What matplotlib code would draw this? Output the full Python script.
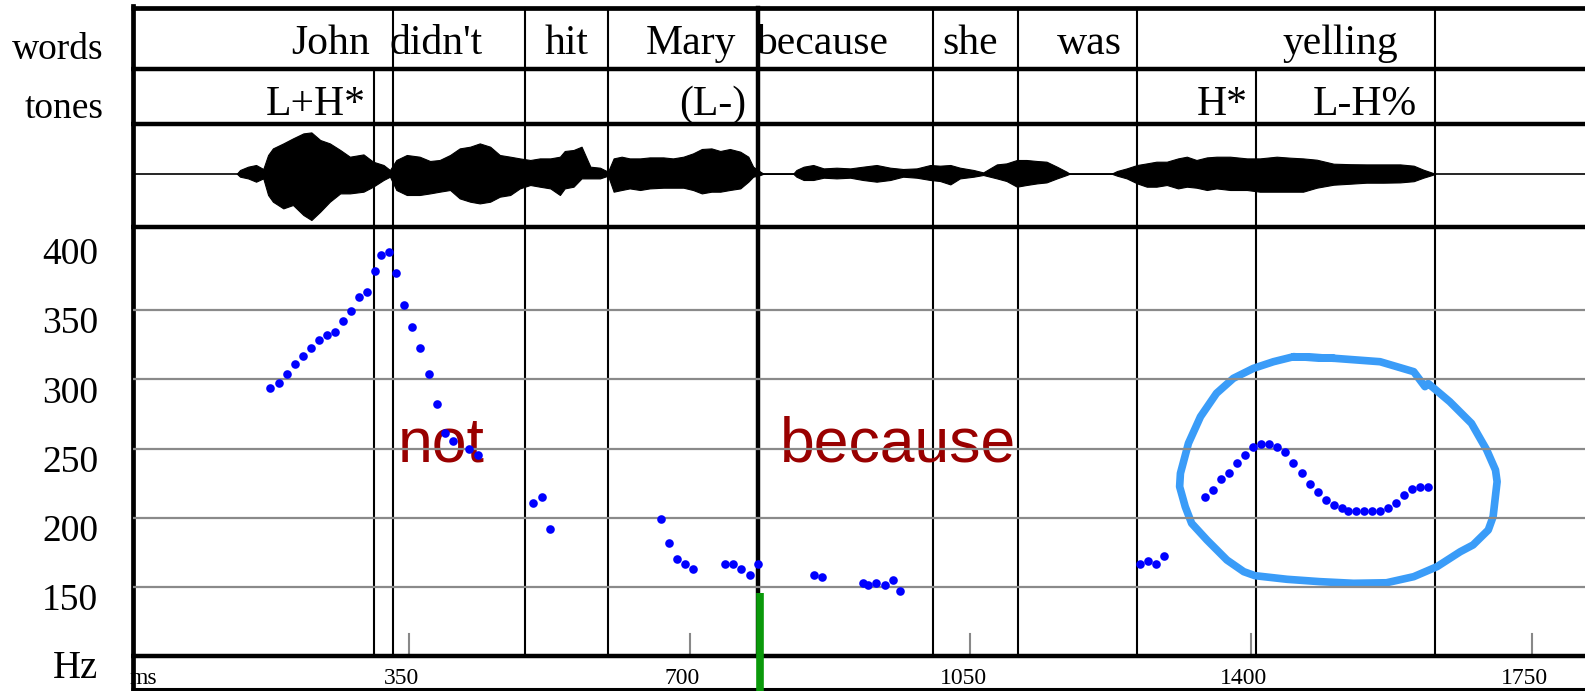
import matplotlib
matplotlib.use("Agg")
import matplotlib.pyplot as plt

# ---------------- data ----------------
word_labels = ["John", "didn't", "hit", "Mary", "because", "she", "was", "yelling"]
word_label_ms = [252, 383, 546, 702, 865, 1050, 1199, 1511]
word_bounds_ms = [330, 495, 598, 785, 1003, 1110, 1258, 1630]

tone_labels = ["L+H*", "(L-)", "H*", "L-H%"]
tone_label_ms = [233, 728, 1364, 1542]
tone_only_bounds_ms = [306, 1406]

pitch_ms = [176, 187, 197, 207, 217, 227, 237, 247, 257, 267, 277, 287, 297, 307,
            315, 325, 334, 344, 354, 364, 375, 385, 395, 405, 425, 436,
            505, 516, 526,
            664, 674, 684, 694, 704, 744, 754, 764, 775, 785,
            855, 865, 916, 922, 932, 943, 953, 962,
            1262, 1272, 1282, 1292,
            1343, 1353, 1363, 1373, 1383, 1393, 1403, 1413, 1423, 1433, 1443, 1453,
            1464, 1474, 1484, 1494, 1504, 1514, 1521, 1531, 1541, 1551, 1561, 1571,
            1581, 1591, 1601, 1611, 1621]
pitch_hz = [293.9, 297.5, 303.5, 311.2, 317.0, 322.8, 328.5, 332.2, 334.3, 342.0,
            349.5, 359.2, 363.0, 378.2, 390.0, 392.0, 376.7, 353.6, 338.0, 322.8,
            303.5, 282.3, 260.9, 255.1, 249.6, 245.5,
            210.8, 214.9, 191.6,
            199.3, 182.0, 170.4, 166.6, 162.8, 166.6, 166.6, 162.8, 158.9, 166.6,
            158.9, 157.0, 153.1, 151.2, 153.1, 151.2, 155.0, 147.0,
            166.7, 168.7, 166.7, 172.5,
            214.9, 220.3, 228.3, 232.2, 239.8, 245.6, 251.4, 253.5, 253.5, 251.4,
            247.5, 239.8, 232.2, 224.5, 218.7, 212.9, 209.1, 207.1, 205.2, 205.2,
            205.2, 205.2, 205.2, 207.1, 211.0, 216.7, 220.6, 222.5, 222.5]

wave_ms = [135, 139, 149, 159, 168, 174, 180, 193, 205, 218, 228, 239, 251, 264, 276,
           293, 305, 318, 326, 334, 347, 363, 376, 388, 401, 413, 426, 438, 451, 463,
           476, 488, 501, 513, 526, 538, 544, 555, 565, 576, 588, 598, 605, 615, 625,
           638, 650, 667, 679, 692, 704, 715, 727, 738, 750, 763, 773, 779, 788, 792,
           829, 833, 842, 854, 867, 883, 900, 916, 933, 950, 966, 983, 1000, 1012,
           1025, 1037, 1054, 1066, 1083, 1095, 1108, 1120, 1133, 1145, 1158, 1170,
           1174, 1226, 1233, 1245, 1258, 1270, 1282, 1295, 1309, 1320, 1332, 1345,
           1357, 1374, 1395, 1411, 1432, 1449, 1465, 1482, 1503, 1524, 1544, 1565,
           1586, 1603, 1615, 1626, 1630]
wave_top = [0, 3.7, 7, 8.7, 4.7, 18.7, 25.3, 30.3, 35.3, 40.3, 41.3, 33.7, 30.3, 23.7, 17,
            19.3, 12, 8.7, 3.7, 13.7, 18.7, 17, 12.7, 13.7, 18.7, 25.3, 27, 30.3, 27, 18.7,
            17, 15.3, 13.7, 15.3, 15.3, 17, 22.7, 23.7, 27, 7, 6, 2, 15.3, 17, 15.3,
            15.3, 16.3, 16.3, 15.3, 17, 20.3, 24.7, 25.3, 22.7, 24.7, 22, 17, 7, 2, 0,
            0, 3.7, 7, 8.7, 5.3, 6, 5.3, 7, 8.7, 6, 4.7, 5.3, 8.7, 8,
            8.7, 6, 3.7, 1.3, 9.3, 10.3, 13.7, 13.7, 12.7, 12, 7, 2,
            0, 0, 2.7, 5.3, 8.7, 10.3, 12, 12, 15.3, 17, 13.7, 16.3,
            17, 17, 15.3, 15.3, 17, 16, 15.3, 14, 10, 9.5, 9.3, 9.3,
            9.3, 8, 4, 1, 0]
wave_bot = [0, 3, 4.7, 8, 4.7, 21.3, 28, 34.7, 31.3, 41.3, 46.3, 38, 28, 19.7, 19.7,
            18, 13, 6.3, 3, 16.3, 21.3, 21.3, 19.7, 18, 16.3, 24.7, 28, 29.7, 28, 23,
            21.3, 14.7, 11.3, 13, 14.7, 21.3, 14.7, 13, 4.7, 4.7, 4.7, 2, 18, 16.3, 14.7,
            16.3, 14.7, 14, 14, 14, 16.3, 19.7, 18, 18, 16.3, 14.7, 8, 3, 1.3, 0,
            0, 3, 6.3, 6.3, 4, 4.7, 4, 6.3, 8, 6.3, 3, 4, 6.3, 7.3,
            10.7, 4.7, 3, 1.3, 4.7, 7.3, 13, 11.3, 9.7, 8.7, 4.7, 1.3,
            0, 0, 2, 4.7, 9.7, 13, 13, 11.3, 14.7, 13, 14, 16.3,
            14.7, 16.3, 16.3, 18, 18, 18, 18, 14, 11, 10, 9, 9,
            8.7, 7.5, 4, 1.3, 0]

circle_ms = [1453, 1503, 1561, 1603, 1617, 1621, 1648, 1675, 1694, 1705, 1707, 1702, 1696,
             1677, 1661, 1632, 1603, 1569, 1528, 1486, 1445, 1405, 1391, 1370, 1345,
             1326, 1318, 1311, 1312, 1322, 1337, 1357, 1378, 1403, 1428, 1453, 1503]
circle_hz = [316.3, 315.2, 312.7, 305.5, 294.7, 297.0, 283.8, 268.2, 249.0, 234.5, 226.1,
             200.8, 191.2, 180.4, 175.5, 164.7, 157.5, 153.1, 152.7, 153.9, 155.6, 158.2,
             161.1, 169.5, 184.0, 196.0, 208.0, 222.5, 232.1, 253.8, 273.0, 289.9, 300.7,
             307.9, 312.7, 316.3, 315.2]

hz_tick_values = [150, 200, 250, 300, 350, 400]
hz_grid_values = [150, 200, 250, 300, 350]
ms_tick_values = [350, 700, 1050, 1400, 1750]

annot_words = ["not", "because"]
annot_ms = [336, 812]
annot_hz = [240.5, 240.5]

green_mark_ms = 787

# ---------------- layout ----------------
W, H = 1585, 691
PX0, PXMS = 128.6, 0.8017           # pixel of 0 ms, pixels per ms
LEFT = 133                          # left frame pixel
Y_TOP, Y_WT, Y_TW, Y_WP, Y_PB, Y_BOT = 8, 69, 124, 227, 656.3, 689

def ms_at(px):
    return (px - PX0) / PXMS

SERIF = ["Liberation Serif", "DejaVu Serif"]
SANS = ["Liberation Sans", "DejaVu Sans"]

fig = plt.figure(figsize=(W / 100, H / 100), dpi=100)
fig.patch.set_facecolor("white")

# master axes: x in ms, y in pixels (downwards)
ax = fig.add_axes([0, 0, 1, 1])
ax.set_xlim(ms_at(0), ms_at(W))
ax.set_ylim(H, 0)
ax.axis("off")

# pitch axes
axp = fig.add_axes([LEFT / W, 1 - Y_PB / H, (W - LEFT) / W, (Y_PB - Y_WP) / H])
axp.set_xlim(ms_at(LEFT), ms_at(W))
axp.set_ylim(100, 100 + (Y_PB - Y_WP) / 1.385)
axp.axis("off")
axp.patch.set_alpha(0)

# waveform axes
WAVE_C = 173.7
axw = fig.add_axes([LEFT / W, 1 - Y_WP / H, (W - LEFT) / W, (Y_WP - Y_TW) / H])
axw.set_xlim(ms_at(LEFT), ms_at(W))
axw.set_ylim(-(Y_WP - WAVE_C), WAVE_C - Y_TW)
axw.axis("off")
axw.patch.set_alpha(0)

# waveform
axw.axhline(0, color="black", lw=1.2, zorder=2)
axw.fill_between(wave_ms, wave_top, [-b for b in wave_bot], color="black", lw=0.8,
                 edgecolor="black", zorder=3)

# pitch content
axp.plot(circle_ms, circle_hz, color="#3a9cf8", lw=5.5, solid_joinstyle="round",
         solid_capstyle="round", zorder=1)
for w, x, y in zip(annot_words, annot_ms, annot_hz):
    axp.text(x, y, w, family=SANS, fontsize=45, color="#990000", ha="left",
             va="baseline", zorder=2)
for h in hz_grid_values:
    axp.axhline(h, color="#8a8a8a", lw=1.6, zorder=3)
axp.plot(pitch_ms, pitch_hz, "o", color="#0000ff", ms=6.2, mec="none", zorder=6)

# x ticks (grey marks in pitch area)
for t in ms_tick_values:
    ax.plot([t, t], [634, Y_PB], color="#888888", lw=1.5, zorder=3)
    ax.text(t - 9, 679, str(t), family=SERIF, fontsize=17, ha="center", va="center")
ax.text(ms_at(130), 679, "ms", family=SERIF, fontsize=17, ha="left", va="center")

# boundaries
for b in word_bounds_ms:
    lw = 3.2 if b == 785 else 1.5
    ax.plot([b, b], [Y_TOP, Y_PB], color="black", lw=lw, zorder=4)
for b in tone_only_bounds_ms:
    ax.plot([b, b], [Y_WT, Y_PB], color="black", lw=1.5, zorder=4)

# green marker
ax.plot([green_mark_ms, green_mark_ms], [593, H], color="#0a990a", lw=5.5,
        solid_capstyle="butt", zorder=7)

# frame lines
for y, lw in [(Y_TOP, 3.4), (Y_WT, 3.2), (Y_TW, 3.2), (Y_WP, 3.2), (Y_PB, 3.2),
              (Y_BOT, 2.2)]:
    ax.plot([ms_at(LEFT - 2), ms_at(W)], [y, y], color="black", lw=lw,
            solid_capstyle="butt", zorder=5)
ax.plot([ms_at(LEFT), ms_at(LEFT)], [Y_TOP - 2, H], color="black", lw=3.4, zorder=5)

# tier texts
for lab, x in zip(word_labels, word_label_ms):
    ax.text(x, 54, lab, family=SERIF, fontsize=30, ha="center", va="baseline")
for lab, x in zip(tone_labels, tone_label_ms):
    ax.text(x, 114.5, lab, family=SERIF, fontsize=30, ha="center", va="baseline")

ax.text(ms_at(104), 58.6, "words", family=SERIF, fontsize=27, ha="right", va="baseline")
ax.text(ms_at(104), 118, "tones", family=SERIF, fontsize=27, ha="right", va="baseline")
ax.text(ms_at(76), 668, "Hz", family=SERIF, fontsize=28, ha="center", va="center")

# y tick labels (placed slightly below their grid level, as in the source)
for h in hz_tick_values:
    ypx = Y_PB - (h - 100) * 1.385 + 14
    ax.text(ms_at(98), ypx, str(h), family=SERIF, fontsize=27, ha="right", va="center")

fig.savefig("out.png", dpi=100, facecolor="white")
